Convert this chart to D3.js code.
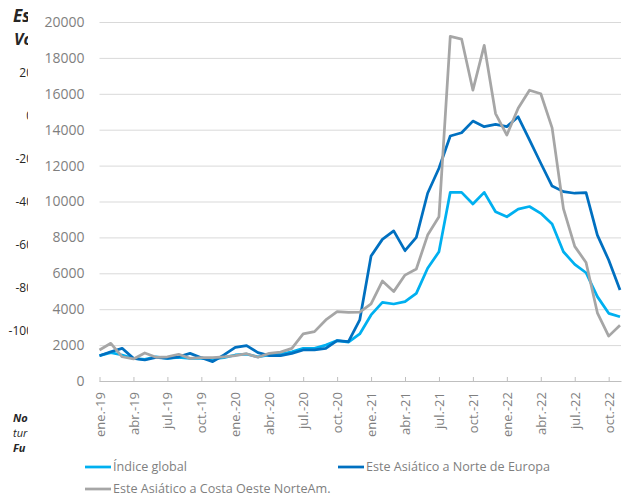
<!DOCTYPE html>
<html>
<head>
<meta charset="utf-8">
<script src="https://cdn.jsdelivr.net/npm/d3@7"></script>
<style>
  body { margin: 0; background: #ffffff; }
  svg { display: block; font-family: "Open Sans", sans-serif; }
</style>
</head>
<body>
<div id="chart"></div>
<script>
// months from ene.-19 to nov.-22
var monthNames = ["ene.", "feb.", "mar.", "abr.", "may.", "jun.", "jul.", "ago.", "sep.", "oct.", "nov.", "dic."];
var months = [];
for (var yr = 19; yr <= 22; yr++) {
  monthNames.forEach(function(m, i) {
    if (yr == 22 && i > 10) return;
    months.push(m + "-" + yr);
  });
}

var seriesNames = ["Índice global", "Este Asiático a Norte de Europa", "Este Asiático a Costa Oeste NorteAm."];
var seriesColors = ["#00b0f0", "#0070c0", "#a6a6a6"];

var globalIdx = [1410, 1580, 1450, 1260, 1200, 1350, 1260, 1320, 1260, 1260, 1230, 1300,
  1450, 1500, 1350, 1450, 1500, 1630, 1820, 1820, 2000, 2250, 2160, 2620,
  3680, 4380, 4290, 4420, 4880, 6280, 7200, 10510, 10510, 9860, 10510, 9430,
  9150, 9580, 9720, 9340, 8750, 7200, 6500, 6030, 4700, 3770, 3580];

var asiaEurope = [1410, 1630, 1820, 1260, 1170, 1320, 1260, 1350, 1540, 1300, 1080, 1450,
  1870, 1970, 1580, 1410, 1410, 1540, 1730, 1730, 1820, 2250, 2190, 3400,
  6960, 7890, 8360, 7260, 8000, 10460, 11850, 13650, 13830, 14480, 14170, 14300,
  14170, 14720, 13430, 12130, 10860, 10550, 10460, 10490, 8130, 6740, 5070];

var asiaUSWest = [1730, 2100, 1350, 1230, 1560, 1320, 1350, 1490, 1260, 1300, 1300, 1350,
  1410, 1520, 1320, 1540, 1610, 1820, 2620, 2750, 3400, 3860, 3830, 3840,
  4300, 5570, 4980, 5900, 6240, 8130, 9150, 19200, 19050, 16200, 18700, 14900,
  13700, 15200, 16200, 16000, 14100, 9600, 7500, 6600, 3800, 2500, 3100];

var yTicks = [0, 2000, 4000, 6000, 8000, 10000, 12000, 14000, 16000, 18000, 20000];

// fragments of the neighbouring chart that show at the left edge
var sideTitle = ["Es", "Vo"];
var sideTicks = ["20", "0", "-20", "-40", "-60", "-80", "-100"];
var sideNotes = ["No", "tur", "Fu"];

var W = 629, H = 502;
var plotLeft = 99.5, plotRight = 620, plotTop = 22, plotBottom = 381;

var svg = d3.select("#chart").append("svg")
  .attr("width", W)
  .attr("height", H);

// left clipped fragments
svg.append("clipPath").attr("id", "sideClip")
  .append("rect").attr("x", 0).attr("y", 0).attr("width", 28).attr("height", H);

var side = svg.append("g").attr("clip-path", "url(#sideClip)");
side.append("text").attr("x", 13).attr("y", 22).text(sideTitle[0])
  .attr("font-size", 17).attr("font-weight", "bold").attr("font-style", "italic").attr("fill", "#262626");
side.append("text").attr("x", 14).attr("y", 45).text(sideTitle[1])
  .attr("font-size", 16).attr("font-style", "italic").attr("font-weight", "bold").attr("fill", "#262626");
side.selectAll(".sideTick").data(sideTicks).enter().append("text")
  .attr("x", 33)
  .attr("y", function(d, i) { return 77 + 43 * i; })
  .attr("text-anchor", "end")
  .attr("font-size", 12)
  .attr("fill", "#262626")
  .text(function(d) { return d; });
side.selectAll(".sideNote").data(sideNotes).enter().append("text")
  .attr("x", 13)
  .attr("y", function(d, i) { return 422 + 15 * i; })
  .attr("font-size", 11)
  .attr("font-weight", function(d, i) { return i == 1 ? "normal" : "bold"; })
  .attr("font-style", "italic")
  .attr("fill", "#262626")
  .text(function(d) { return d; });

var x = d3.scalePoint()
  .domain(months)
  .range([plotLeft, plotRight]);

var y = d3.scaleLinear()
  .domain([0, 20000])
  .range([plotBottom, plotTop]);

// gridlines and y labels
var yAxis = svg.append("g")
  .attr("transform", "translate(" + plotLeft + ",0)")
  .call(d3.axisLeft(y).tickValues(yTicks).tickSize(-(plotRight - plotLeft + 1)).tickPadding(15).tickFormat(d3.format("d")));
yAxis.select(".domain").remove();
yAxis.selectAll(".tick line").attr("stroke", "#d9d9d9").attr("stroke-width", 1);
yAxis.selectAll(".tick text")
  .attr("fill", "#7f7f7f")
  .attr("font-size", 14)
  .attr("font-family", "'Open Sans', sans-serif");

// x axis
var xTickVals = months.filter(function(d, i) { return i % 3 == 0; });
var xAxis = svg.append("g")
  .attr("transform", "translate(0," + plotBottom + ")")
  .call(d3.axisBottom(x).tickValues(xTickVals).tickSizeInner(-4).tickSizeOuter(0));
xAxis.select(".domain").attr("stroke", "#bfbfbf").attr("d", "M" + plotLeft + ",0.5H" + (plotRight + 1.5));
xAxis.selectAll(".tick line").attr("stroke", "#bfbfbf");
xAxis.selectAll(".tick text")
  .attr("fill", "#7f7f7f")
  .attr("font-size", 13)
  .attr("font-family", "'Open Sans', sans-serif")
  .attr("transform", "rotate(-90)")
  .attr("text-anchor", "end")
  .attr("x", -11)
  .attr("y", 0)
  .attr("dy", "0.35em");

// lines
var allSeries = [globalIdx, asiaEurope, asiaUSWest];
var line = d3.line()
  .x(function(d, i) { return x(months[i]); })
  .y(function(d) { return y(d); });

allSeries.forEach(function(s, k) {
  svg.append("path")
    .datum(s)
    .attr("fill", "none")
    .attr("stroke", seriesColors[k])
    .attr("stroke-width", 2.75)
    .attr("stroke-linejoin", "round")
    .attr("d", line);
});

// legend
var legendPos = [[85, 467], [338, 467], [85, 489]];
var legend = svg.selectAll(".legendItem").data(seriesNames).enter().append("g")
  .attr("transform", function(d, i) { return "translate(" + legendPos[i][0] + "," + legendPos[i][1] + ")"; });
legend.append("line")
  .attr("x1", 0).attr("x2", 26).attr("y1", 0).attr("y2", 0)
  .attr("stroke", function(d, i) { return seriesColors[i]; })
  .attr("stroke-width", 2.75);
legend.append("text")
  .attr("x", 28)
  .attr("y", 0)
  .attr("dy", "0.35em")
  .attr("font-size", 12.6)
  .attr("fill", "#7f7f7f")
  .text(function(d) { return d; });
</script>
</body>
</html>
